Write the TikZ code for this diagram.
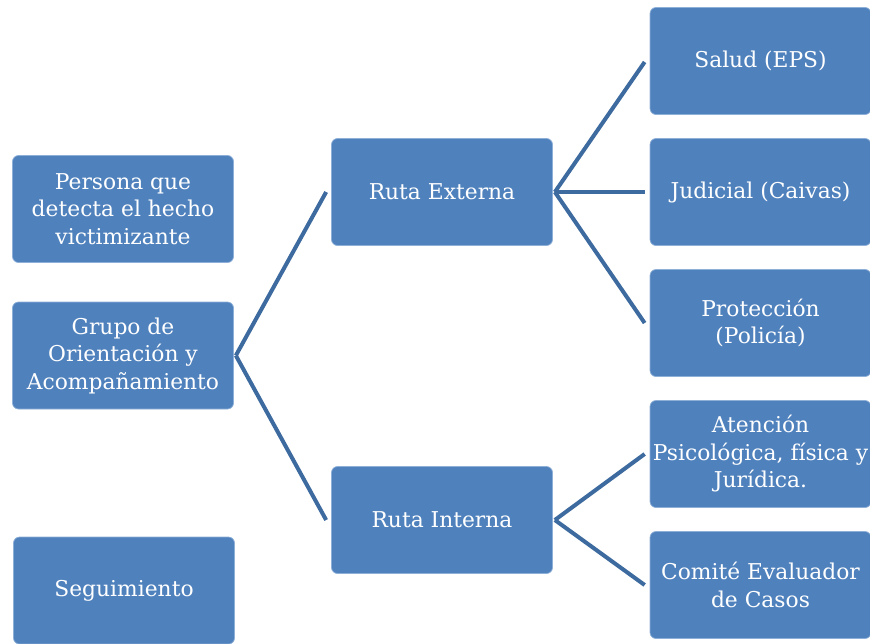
\documentclass[tikz,border=0pt]{standalone}
\usepackage{fontspec}
\setmainfont{DejaVu Serif}
\definecolor{boxfill}{HTML}{4F81BD}
\definecolor{boxline}{HTML}{8EAFD8}
\definecolor{conn}{HTML}{3D6A9F}
\tikzset{
  stepbox/.style={rectangle, rounded corners=6pt, fill=boxfill, draw=boxline, line width=0.7pt,
    text=white, align=center, font=\fontsize{21.8}{27.5}\selectfont,
    minimum width=221pt, minimum height=107pt, inner sep=0pt},
  link/.style={draw=conn, line width=4pt}
}
\begin{document}
\begin{tikzpicture}[x=1pt,y=-1pt]
\useasboundingbox (0,0) rectangle (870,643);
\node[stepbox] (persona) at (123,209) {Persona que\\detecta el hecho\\victimizante};
\node[stepbox] (grupo) at (123,355.5) {Grupo de\\Orientación y\\Acompañamiento};
\node[stepbox] (seg) at (124,590.5) {Seguimiento};
\node[stepbox] (rext) at (442,192) {Ruta Externa};
\node[stepbox] (rint) at (442,520) {Ruta Interna};
\node[stepbox] (salud) at (760.5,61) {Salud (EPS)};
\node[stepbox] (jud) at (760.5,192) {Judicial (Caivas)};
\node[stepbox] (prot) at (760.5,323) {Protección\\(Policía)};
\node[stepbox] (aten) at (760.5,454) {Atención\\Psicológica, física y\\Jurídica.};
\node[stepbox] (comite) at (760.5,585) {Comité Evaluador\\de Casos};
\draw[link] ([xshift=2pt]grupo.east) -- ([xshift=-5pt]rext.west);
\draw[link] ([xshift=2pt]grupo.east) -- ([xshift=-5pt]rint.west);
\draw[link] ([xshift=2pt]rext.east) -- ([xshift=-5pt,yshift=-1pt]salud.west);
\draw[link] ([xshift=2pt]rext.east) -- ([xshift=-5pt]jud.west);
\draw[link] ([xshift=2pt]rext.east) -- ([xshift=-5pt]prot.west);
\draw[link] ([xshift=2pt]rint.east) -- ([xshift=-5pt]aten.west);
\draw[link] ([xshift=2pt]rint.east) -- ([xshift=-5pt]comite.west);
\end{tikzpicture}
\end{document}
